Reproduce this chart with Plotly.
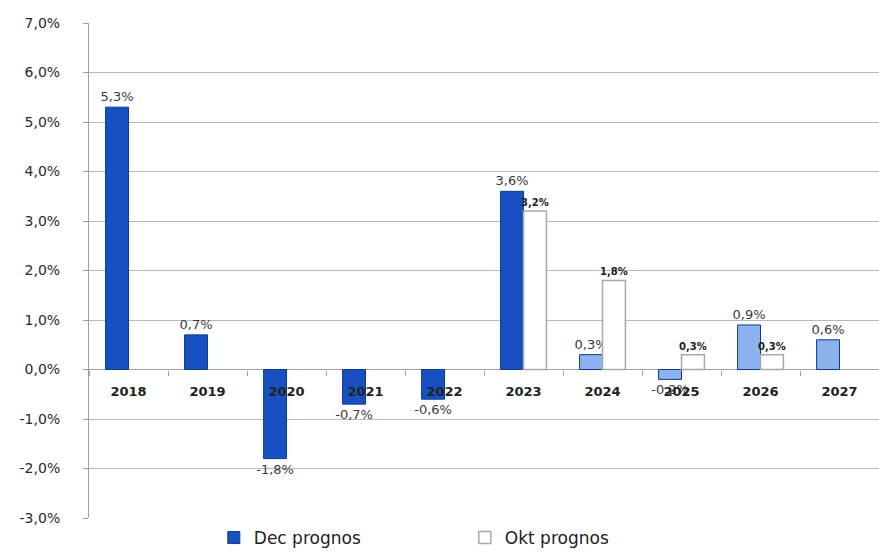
import plotly.graph_objects as go

years = ["2018", "2019", "2020", "2021", "2022", "2023", "2024", "2025", "2026", "2027"]
dec_prognos = [5.3, 0.7, -1.8, -0.7, -0.6, 3.6, 0.3, -0.2, 0.9, 0.6]
okt_prognos = [None, None, None, None, None, 3.2, 1.8, 0.3, 0.3, None]
y_ticks = [-3, -2, -1, 0, 1, 2, 3, 4, 5, 6, 7]
dec_colors = ["#1850c2"] * 6 + ["#8db3ee"] * 4

def fmt(v):
    return "" if v is None else f"{v:.1f}".replace(".", ",") + "%"

fig = go.Figure()
fig.add_trace(go.Bar(
    x=years, y=dec_prognos, name="Dec prognos",
    marker=dict(color=dec_colors, line=dict(color="#0d3a8f", width=1)),
    text=[fmt(v) for v in dec_prognos], textposition="outside",
    constraintext="none",
    textfont=dict(family="DejaVu Sans", size=13, color="#3a3a3a"),
    cliponaxis=False,
))
fig.add_trace(go.Bar(
    x=years, y=okt_prognos, name="Okt prognos",
    marker=dict(color="#ffffff", line=dict(color="#a8a8a8", width=1.5)),
    text=[fmt(v) for v in okt_prognos], textposition="outside",
    constraintext="none",
    textfont=dict(family="DejaVu Sans", size=10, color="#202020", weight="bold"),
    cliponaxis=False,
))

fig.update_layout(
    width=879, height=556,
    margin=dict(l=89, r=0, t=23, b=38),
    paper_bgcolor="white", plot_bgcolor="white",
    barmode="group", bargap=0.42, bargroupgap=0.0,
    separators=", ",
    font=dict(family="DejaVu Sans", size=13, color="#333333"),
    showlegend=True,
    legend=dict(orientation="h", yref="container", x=0.158, xanchor="left",
                y=0.0, yanchor="bottom",
                font=dict(size=17, color="#222222"),
                traceorder="normal", entrywidth=206),
    yaxis=dict(range=[-3, 7], tickvals=y_ticks,
               ticktext=[f"{v:.1f}".replace(".", ",") + "%" for v in y_ticks],
               showgrid=True, gridcolor="#b8b8b8", gridwidth=1,
               zeroline=True, zerolinecolor="#a0a0a0", zerolinewidth=1,
               showline=True, linecolor="#a0a0a0", ticks="outside", ticklen=5,
               tickcolor="#a0a0a0", automargin=False, ticklabelstandoff=20,
               tickfont=dict(size=14, color="#2a2a2a")),
    xaxis=dict(type="category", anchor="free", position=0.3,
               showline=False, showgrid=False, ticks="outside", ticklen=5,
               tickson="boundaries", tickcolor="#a0a0a0", automargin=False,
               ticklabelstandoff=12,
               tickfont=dict(size=13, color="#222222", weight="bold")),
)

fig.write_html("out.html", config={"displayModeBar": False},
               post_script="document.body.style.margin='0';document.body.style.overflow='hidden';")
